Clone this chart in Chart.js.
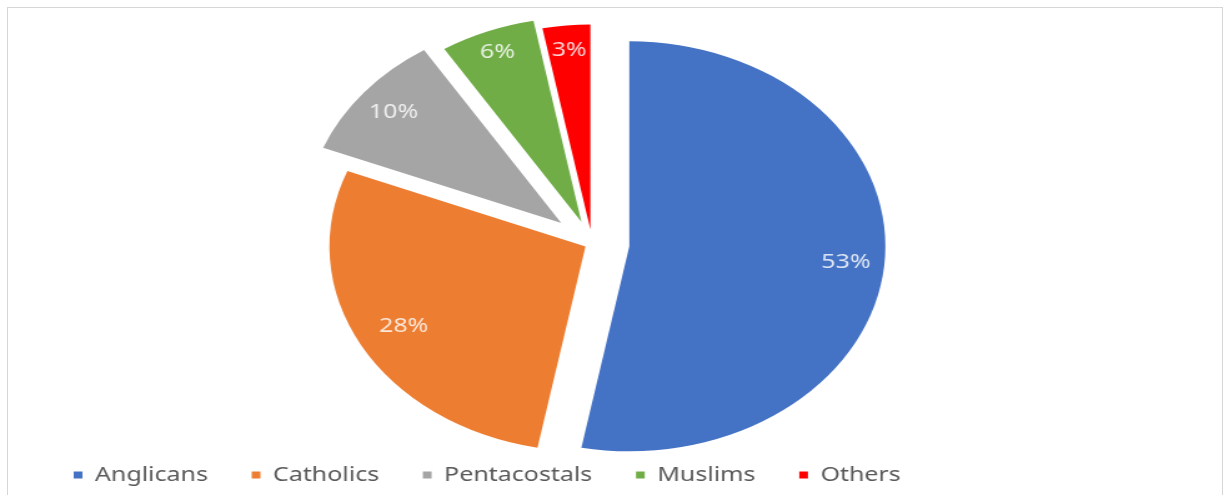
<!DOCTYPE html>
<html>
<head>
<meta charset="utf-8">
<title>Religious affiliation</title>
<script src="https://cdn.jsdelivr.net/npm/chart.js@4.4.1/dist/chart.umd.min.js"></script>
<style>
  html, body { margin: 0; padding: 0; background: #fff; overflow: hidden; }
  #frame {
    position: absolute; left: 7px; top: 7px; width: 1216px; height: 520px;
    border: 1px solid #d6d6d6; box-sizing: border-box;
  }
  /* the chart is drawn narrow and widened, like the stretched original */
  #wrap {
    position: absolute; left: 0; top: 0; width: 980px; height: 495px;
    transform: scaleX(1.249); transform-origin: 0 0;
  }
</style>
</head>
<body>
<div id="frame"></div>
<div id="wrap"><canvas id="chart" width="980" height="495" style="width:980px;height:495px"></canvas></div>
<script>
const religions = ['Anglicans', 'Catholics', 'Pentacostals', 'Muslims', 'Others'];
const shares = [53, 28, 10, 6, 3];

const sliceColors = ['#4472C4', '#ED7D31', '#A5A5A5', '#70AD47', '#FF0000'];
// how far each slice is pulled out, and where its % label sits (fraction of radius)
const explode = [30, 6, 32, 23, 14];
const labelDist = [0.85, 0.81, 0.85, 0.89, 0.88];

// draws each slice pulled out along its middle angle, then the % labels
const explodedSlices = {
  id: 'explodedSlices',
  beforeDatasetDraw(chart, args) {
    const ctx = chart.ctx;
    const arcs = args.meta.data;
    arcs.forEach((arc, i) => {
      const mid = (arc.startAngle + arc.endAngle) / 2;
      ctx.save();
      ctx.translate(Math.cos(mid) * explode[i], Math.sin(mid) * explode[i]);
      arc.draw(ctx);
      ctx.restore();
    });

    ctx.save();
    ctx.font = '20px "Noto Sans", "Open Sans", sans-serif';
    ctx.fillStyle = 'rgba(255,255,255,0.82)';
    ctx.textAlign = 'center';
    ctx.textBaseline = 'middle';
    arcs.forEach((arc, i) => {
      const mid = (arc.startAngle + arc.endAngle) / 2;
      const r = explode[i] + arc.outerRadius * labelDist[i];
      ctx.fillText(shares[i] + '%', arc.x + Math.cos(mid) * r, arc.y + Math.sin(mid) * r);
    });
    ctx.restore();
    return false;
  }
};

new Chart(document.getElementById('chart'), {
  type: 'pie',
  data: {
    labels: religions,
    datasets: [{
      data: shares,
      backgroundColor: sliceColors,
      borderWidth: 0
    }]
  },
  options: {
    responsive: false,
    animation: false,
    radius: 205,
    layout: { padding: { left: 24, right: 56, top: 57, bottom: 0 } },
    plugins: {
      tooltip: { enabled: false },
      legend: {
        position: 'bottom',
        align: 'start',
        labels: {
          boxWidth: 7,
          boxHeight: 7,
          padding: 35,
          color: '#595959',
          font: { family: '"Noto Sans", "Open Sans", sans-serif', size: 20 }
        }
      }
    }
  },
  plugins: [explodedSlices]
});
</script>
</body>
</html>
